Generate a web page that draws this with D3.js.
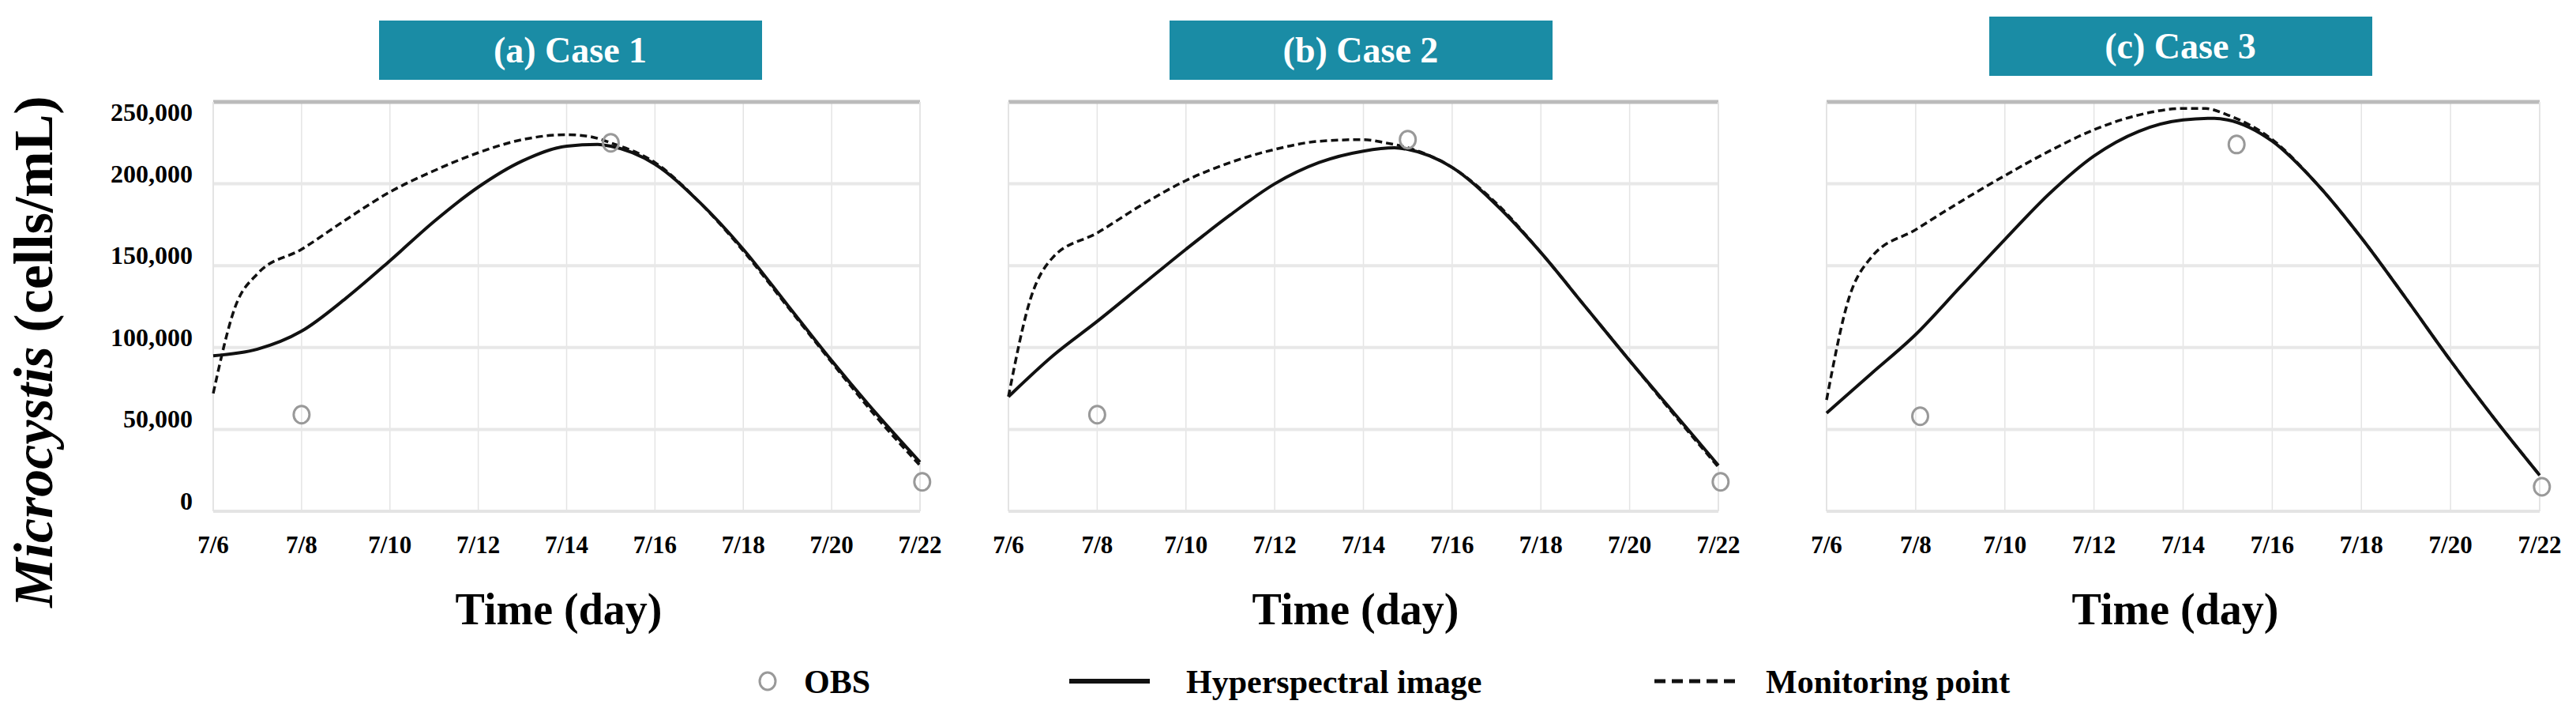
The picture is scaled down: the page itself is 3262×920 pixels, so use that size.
<!DOCTYPE html>
<html>
<head>
<meta charset="utf-8">
<script src="https://cdn.jsdelivr.net/npm/d3@7"></script>
<style>
  body { margin: 0; background: #fff; }
  text { font-family: "Liberation Serif", "DejaVu Serif", serif; font-weight: bold; }
</style>
</head>
<body>
<svg id="chart" width="3262" height="920"></svg>
<script>
// values in thousand cells/mL, day of July
var caseTitles = ["(a) Case 1", "(b) Case 2", "(c) Case 3"];
var xTicks = [6, 8, 10, 12, 14, 16, 18, 20, 22];
var yTicks = [0, 50000, 100000, 150000, 200000, 250000];

var hyperDays = [6, 7, 8, 9, 10, 11, 12, 13, 14, 14.7, 15, 16, 17, 18, 19, 20, 21, 22];
var hyperA = [95, 99, 110, 130, 153, 177, 198, 214, 223, 224, 223, 212, 189, 160, 126, 92, 60, 30];
var hyperB = [70, 95, 116, 138, 160, 181, 200, 213, 220, 222, 221, 210, 187, 158, 125, 92, 60, 28];
var hyperC = [60, 84, 108, 137, 166, 194, 217, 232, 239, 240, 239, 226, 200, 167, 130, 92, 56, 22];

var monDays = [6, 6.5, 7, 8, 9, 10, 11, 12, 13, 14, 14.5, 15, 16, 17, 18, 19, 20, 21, 22];
var monA = [72, 125, 145, 160, 178, 195, 208, 219, 227, 230, 229, 225, 213, 189, 159, 125, 91, 58, 28];
var monB = [70, 130, 155, 170, 187, 202, 213, 221, 226, 227, 225, 222, 210, 188, 158, 125, 92, 59, 27];
var monC = [68, 130, 155, 172, 189, 205, 220, 233, 242, 246, 246, 242, 227, 200, 167, 130, 92, 56, 22];

var obsDays = [[8, 15, 22.05], [8, 15, 22.05], [8.1, 15.2, 22.05]];
var obsVals = [[59, 225, 18], [59, 227, 18], [58, 224, 15]];

var hyper = [hyperA, hyperB, hyperC];
var mon = [monA, monB, monC];

var panels = [
  { left: 270, right: 1165, box: 480, boxTop: 26 },
  { left: 1277, right: 2176, box: 1481, boxTop: 26 },
  { left: 2313, right: 3216, box: 2519, boxTop: 21 }
];
var plotTop = 129, plotBottom = 647;

var svg = d3.select("#chart");

var y = d3.scaleLinear().domain([0, 250000]).range([plotBottom, plotTop]);

panels.forEach(function (p, i) {
  var x = d3.scaleLinear().domain([6, 22]).range([p.left, p.right]);
  var g = svg.append("g");

  // title box
  g.append("rect").attr("x", p.box).attr("y", p.boxTop)
    .attr("width", 485).attr("height", 75).attr("fill", "#1a8ca5");
  g.append("text").attr("x", p.box + 242).attr("y", p.boxTop + 53)
    .attr("text-anchor", "middle").attr("fill", "#fff")
    .style("font-size", "46px").text(caseTitles[i]);

  // grid
  g.selectAll(".vg").data(xTicks.slice(1)).enter().append("line")
    .attr("x1", d => x(d)).attr("x2", d => x(d))
    .attr("y1", plotTop).attr("y2", plotBottom)
    .attr("stroke", "#e4e4e4").attr("stroke-width", 1.5);
  g.selectAll(".hg").data(yTicks.slice(1, 5)).enter().append("line")
    .attr("x1", p.left).attr("x2", p.right)
    .attr("y1", d => y(d)).attr("y2", d => y(d))
    .attr("stroke", "#e8e8e8").attr("stroke-width", 4);
  g.append("line").attr("x1", p.left).attr("x2", p.right)
    .attr("y1", plotTop).attr("y2", plotTop).attr("stroke", "#bbb").attr("stroke-width", 5);
  g.append("line").attr("x1", p.left).attr("x2", p.right)
    .attr("y1", plotBottom).attr("y2", plotBottom).attr("stroke", "#e4e4e4").attr("stroke-width", 4);
  g.append("line").attr("x1", p.left).attr("x2", p.left)
    .attr("y1", plotTop).attr("y2", plotBottom).attr("stroke", "#e4e4e4").attr("stroke-width", 2);
  g.append("line").attr("x1", p.right).attr("x2", p.right)
    .attr("y1", plotTop).attr("y2", plotBottom).attr("stroke", "#e4e4e4").attr("stroke-width", 2);

  // x tick labels
  g.selectAll(".xt").data(xTicks).enter().append("text")
    .attr("x", d => x(d)).attr("y", 700).attr("text-anchor", "middle")
    .style("font-size", "31px").text(d => "7/" + d);

  g.append("text").attr("x", (p.left + p.right) / 2 - 10).attr("y", 790)
    .attr("text-anchor", "middle").style("font-size", "56px").text("Time (day)");

  var line = d3.line().x(d => x(d[0])).y(d => y(d[1] * 1000)).curve(d3.curveMonotoneX);

  g.append("path").datum(monDays.map((d, k) => [d, mon[i][k]]))
    .attr("d", line).attr("fill", "none").attr("stroke", "#111")
    .attr("stroke-width", 3.5).attr("stroke-dasharray", "9,5");
  g.append("path").datum(hyperDays.map((d, k) => [d, hyper[i][k]]))
    .attr("d", line).attr("fill", "none").attr("stroke", "#111").attr("stroke-width", 4);

  g.selectAll(".obs").data(obsDays[i].map((d, k) => [d, obsVals[i][k]])).enter()
    .append("ellipse").attr("cx", d => x(d[0])).attr("cy", d => y(d[1] * 1000))
    .attr("rx", 10).attr("ry", 11).attr("fill", "none")
    .attr("stroke", "#999").attr("stroke-width", 3);
});

// y axis labels (first panel only)
svg.selectAll(".yt").data(yTicks).enter().append("text")
  .attr("x", 244).attr("y", d => y(d) + (d === 250000 ? 24 : -2))
  .attr("text-anchor", "end").style("font-size", "32px")
  .text(d => d3.format(",")(d));

var yt = svg.append("text").attr("transform", "translate(66,445) rotate(-90)")
  .attr("text-anchor", "middle").style("font-size", "70px");
yt.append("tspan").style("font-style", "italic").text("Microcystis ");
yt.append("tspan").text("(cells/mL)");

// legend
var leg = svg.append("g");
leg.append("ellipse").attr("cx", 972).attr("cy", 862).attr("rx", 10).attr("ry", 11)
  .attr("fill", "none").attr("stroke", "#999").attr("stroke-width", 3);
leg.append("text").attr("x", 1018).attr("y", 877).style("font-size", "42px").text("OBS");
leg.append("line").attr("x1", 1354).attr("x2", 1456).attr("y1", 862).attr("y2", 862)
  .attr("stroke", "#111").attr("stroke-width", 6);
leg.append("text").attr("x", 1502).attr("y", 877).style("font-size", "42px").text("Hyperspectral image");
leg.append("line").attr("x1", 2095).attr("x2", 2199).attr("y1", 862).attr("y2", 862)
  .attr("stroke", "#111").attr("stroke-width", 5).attr("stroke-dasharray", "14,8");
leg.append("text").attr("x", 2236).attr("y", 877).style("font-size", "42px").text("Monitoring point");
</script>
</body>
</html>
